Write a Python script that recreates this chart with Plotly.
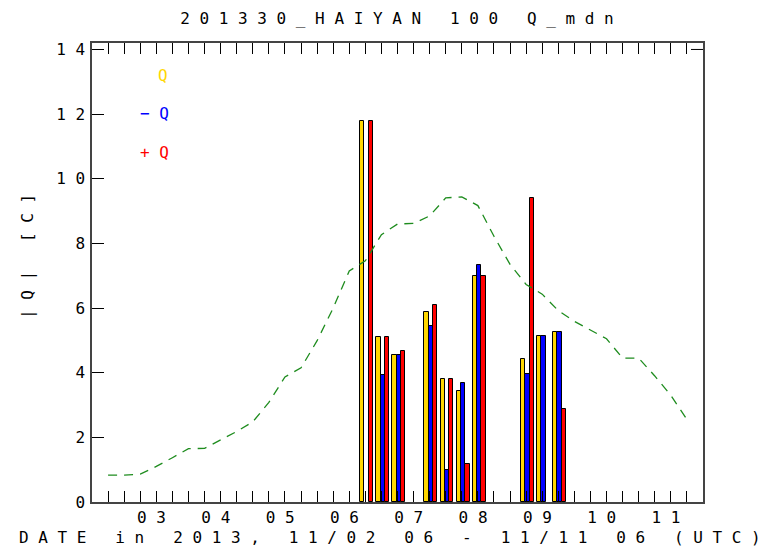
import plotly.graph_objects as go

# ---------------- data ----------------
# bar groups (time as "DD HH", 6-hourly)
bar_times = ["06 06", "06 12", "06 18", "07 06", "07 12", "07 18",
             "08 00", "08 18", "09 00", "09 06"]
q_abs = [11.80, 5.12, 4.54, 5.87, 3.81, 3.43, 7.00, 4.42, 5.14, 5.27]
q_neg = [None, 3.92, 4.54, 5.46, 0.99, 3.67, 7.34, 3.97, 5.14, 5.27]
q_pos = [11.80, 5.12, 4.66, 6.09, 3.81, 1.17, 7.00, 9.40, None, 2.88]

# dashed green line (6-hourly)
line_times = ["02 06", "02 12", "02 18", "03 00", "03 06", "03 12", "03 18",
              "04 00", "04 06", "04 12", "04 18", "05 00", "05 06", "05 12",
              "05 18", "06 00", "06 06", "06 12", "06 18", "07 00", "07 06",
              "07 12", "07 18", "08 00", "08 06", "08 12", "08 18", "09 00",
              "09 06", "09 12", "09 18", "10 00", "10 06", "10 12", "10 18",
              "11 00", "11 06"]
line_vals = [0.83, 0.83, 0.86, 1.10, 1.37, 1.65, 1.66,
             1.92, 2.18, 2.48, 3.08, 3.87, 4.15, 4.99,
             6.00, 7.15, 7.46, 8.27, 8.60, 8.62, 8.85,
             9.41, 9.44, 9.17, 8.22, 7.35, 6.73, 6.43,
             5.92, 5.59, 5.32, 5.05, 4.45, 4.45, 3.90,
             3.30, 2.55]

day_labels = ["0 3 ", "0 4 ", "0 5 ", "0 6 ", "0 7 ", "0 8 ", "0 9 ", "1 0 ", "1 1 "]
day_vals = [3, 4, 5, 6, 7, 8, 9, 10, 11]
y_vals = [0, 2, 4, 6, 8, 10, 12, 14]
y_labels = ["0", "2", "4", "6", "8", "1 0", "1 2", "1 4"]


def to_day(s):
    d, h = s.split()
    return int(d) + int(h) / 24.0


bx = [to_day(t) for t in bar_times]
lx = [to_day(t) for t in line_times]

# ---------------- figure ----------------
FONT = "DejaVu Sans Mono"
OFF = 8  # default body margin of the html page
W, H = 767 - OFF, 549 - OFF
L, R, T, B = 92 - OFF, 64, 43 - OFF, 47
PW, PH = W - L - R, H - T - B

YEL, BLU, RED = "#FFD700", "#0000FF", "#FF0000"
bw = 0.067
shift = 0.02

fig = go.Figure()
fig.add_trace(go.Scatter(x=lx, y=line_vals, mode="lines",
                         line=dict(color="#1e8c1e", width=1.3, dash="9px,7px"),
                         showlegend=False, hoverinfo="skip"))
for vals, col, off in [(q_abs, YEL, -1.5), (q_neg, BLU, -0.5), (q_pos, RED, 0.5)]:
    fig.add_trace(go.Bar(x=bx, y=vals, width=bw, offset=off * bw + shift,
                         marker=dict(color=col, line=dict(color="black", width=1)),
                         showlegend=False))

# minor/major x ticks every 6 h
xt = [2.25 + 0.25 * i for i in range(37)]
xt_text = []
for v in xt:
    if abs(v - round(v)) < 1e-6 and int(round(v)) in day_vals:
        xt_text.append(day_labels[day_vals.index(int(round(v)))])
    else:
        xt_text.append("")

fig.update_layout(
    width=W, height=H,
    margin=dict(l=L, r=R, t=T, b=B),
    paper_bgcolor="white", plot_bgcolor="white",
    font=dict(family=FONT, size=16, color="black"),
    bargap=0, barmode="overlay",
    title=dict(text="2 0 1 3 3 0 _ H A I Y A N   1 0 0   Q _ m d n",
               x=(397 - OFF) / W, xanchor="center", y=1 - (18 - OFF) / H, yanchor="middle",
               font=dict(family=FONT, size=16, color="black")),
    xaxis=dict(range=[2.0, 11.5], tickmode="array", tickvals=xt, ticktext=xt_text,
               ticks="inside", ticklen=11, tickwidth=1, tickcolor="black",
               mirror="ticks", showline=True, linecolor="#444", linewidth=1.5,
               showgrid=False, zeroline=False, tickfont=dict(family=FONT, size=16)),
    yaxis=dict(range=[0, 14.2], tickmode="array", tickvals=y_vals, ticktext=y_labels,
               ticks="inside", ticklen=12, tickwidth=1, tickcolor="black",
               mirror=True, showline=True, linecolor="#444", linewidth=1.5,
               showgrid=False, zeroline=False, tickfont=dict(family=FONT, size=16),
               ticklabelstandoff=2),
)


def px(x):
    return (x - OFF - L) / PW


def py(y):
    return (H - B - (y - OFF)) / PH


ann = [
    dict(text="D A T E   i n   2 0 1 3 ,   1 1 / 0 2   0 6   -   1 1 / 1 1   0 6   ( U T C )",
         x=px(390), y=py(537)),
    dict(text="| Q |   [ C ]", x=px(27), y=py(257), textangle=-90),
    dict(text="Q", x=px(163), y=py(75), font=dict(color=YEL)),
    dict(text="− Q", x=px(154), y=py(114), font=dict(color=BLU)),
    dict(text="+ Q", x=px(154), y=py(152), font=dict(color=RED)),
]
for a in ann:
    f = dict(family=FONT, size=16, color="black")
    f.update(a.pop("font", {}))
    fig.add_annotation(xref="paper", yref="paper", showarrow=False,
                       xanchor="center", yanchor="middle", font=f, **a)

# small tick at top of right frame
fig.add_shape(type="line", xref="paper", yref="y", x0=1 - 12 / PW, x1=1, y0=14, y1=14,
              line=dict(color="black", width=1))

fig.write_html("out.html")
